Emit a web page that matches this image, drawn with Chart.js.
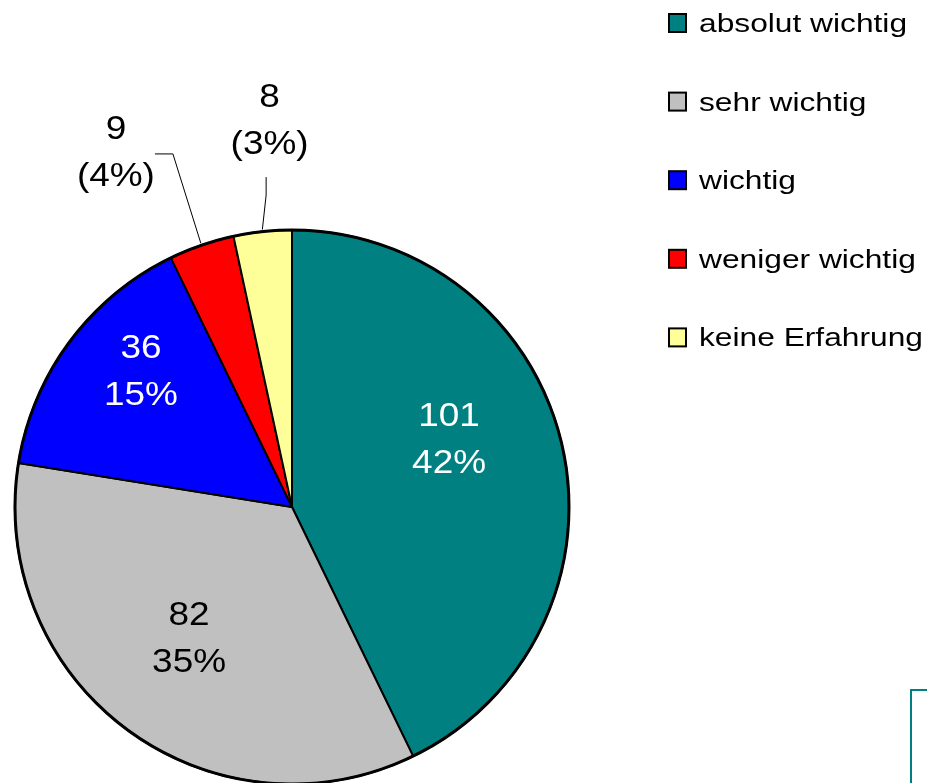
<!DOCTYPE html>
<html><head><meta charset="utf-8">
<script src="https://cdn.jsdelivr.net/npm/chart.js@4/dist/chart.umd.min.js"></script>
<style>html,body{margin:0;padding:0;background:#fff;overflow:hidden}canvas{display:block}</style>
</head><body>
<canvas id="c" width="927" height="783"></canvas>
<script>
// ---- data ----
const categories = ['absolut wichtig', 'sehr wichtig', 'wichtig', 'weniger wichtig', 'keine Erfahrung'];
const counts = [101, 82, 36, 9, 8];
const percentLabels = ['42%', '35%', '15%', '4%', '3%'];

// ---- styles ----
const sliceColors = ['#008080', '#C0C0C0', '#0000FF', '#FF0000', '#FFFF99'];
const labelColors = ['#ffffff', '#000000', '#ffffff', '#000000', '#000000'];
const outsideLabel = [false, false, false, true, true];
// label placement: angle shift (deg) from slice mid-angle, radius factor
const labelShift = [-14.3, 4.5, 8.0, -6.5, 2.9];
const labelRadius = [0.638, 0.565, 0.766, 1.473, 1.446];
const FONT = '"Liberation Sans", Arial, Helvetica, sans-serif';

function drawText(ctx, text, x, y, size, color, sx, align) {
  ctx.save();
  ctx.translate(x, y);
  ctx.scale(sx, 1);
  ctx.font = size + 'px ' + FONT;
  ctx.fillStyle = color;
  ctx.textAlign = align;
  ctx.textBaseline = 'alphabetic';
  ctx.fillText(text, 0, 0);
  ctx.restore();
}

const decorations = {
  id: 'decorations',
  afterDatasetsDraw(chart) {
    const ctx = chart.ctx;
    const meta = chart.getDatasetMeta(0);
    const arcs = meta.data;
    const cx = arcs[0].x, cy = arcs[0].y, R = arcs[0].outerRadius;
    // thicker outer ring
    ctx.save();
    ctx.beginPath();
    ctx.arc(cx, cy, R, 0, Math.PI * 2);
    ctx.lineWidth = 3;
    ctx.strokeStyle = '#000';
    ctx.stroke();
    ctx.restore();

    arcs.forEach((arc, i) => {
      const mid = (arc.startAngle + arc.endAngle) / 2;
      const a = mid + labelShift[i] * Math.PI / 180;
      const lx = cx + Math.cos(a) * R * labelRadius[i];
      const ly = cy + Math.sin(a) * R * labelRadius[i];
      const line1 = String(counts[i]);
      const line2 = outsideLabel[i] ? '(' + percentLabels[i] + ')' : percentLabels[i];
      drawText(ctx, line1, lx, ly, 33, labelColors[i], 1.12, 'center');
      drawText(ctx, line2, lx, ly + 47, 33, labelColors[i], 1.12, 'center');
      if (outsideLabel[i]) {
        const sx = cx + Math.cos(mid) * (R + 2);
        const sy = cy + Math.sin(mid) * (R + 2);
        let elbow, end;
        if (i === 3) { elbow = [lx + 57, ly + 15]; end = [lx + 39, ly + 15]; }
        else { elbow = [lx - 3.5, ly + 88]; end = [lx - 3.5, ly + 70]; }
        ctx.save();
        ctx.beginPath();
        ctx.moveTo(sx, sy);
        ctx.lineTo(elbow[0], elbow[1]);
        ctx.lineTo(end[0], end[1]);
        ctx.lineWidth = 1;
        ctx.strokeStyle = '#000';
        ctx.stroke();
        ctx.restore();
      }
    });

    // legend
    categories.forEach((name, i) => {
      const base = 32 + i * 78.6;
      ctx.save();
      ctx.fillStyle = sliceColors[i];
      ctx.fillRect(669, base - 18, 17, 18);
      ctx.lineWidth = 2;
      ctx.strokeStyle = '#000';
      ctx.strokeRect(669, base - 18, 17, 18);
      ctx.restore();
      drawText(ctx, name, 699, base, 26, '#000', 1.22, 'left');
    });

    // partial frame at bottom right
    ctx.save();
    ctx.lineWidth = 2;
    ctx.strokeStyle = '#008080';
    ctx.strokeRect(911, 690, 60, 120);
    ctx.restore();
  }
};

new Chart(document.getElementById('c'), {
  type: 'pie',
  data: {
    labels: categories,
    datasets: [{
      data: counts,
      backgroundColor: sliceColors,
      borderColor: '#000',
      borderWidth: 2,
      radius: 277
    }]
  },
  options: {
    responsive: false,
    animation: false,
    layout: { padding: { left: 0, right: 343, top: 231, bottom: 0 } },
    plugins: { legend: { display: false }, tooltip: { enabled: false } }
  },
  plugins: [decorations]
});
</script>
</body></html>
